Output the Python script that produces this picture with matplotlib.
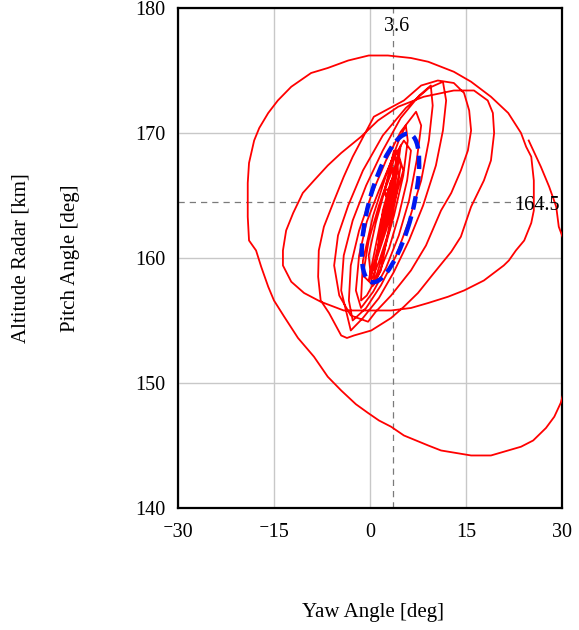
import matplotlib
matplotlib.use('Agg')
import matplotlib.pyplot as plt
from matplotlib.patches import Ellipse

# ---- data ----
# yaw / pitch trajectory, in order; the outer loop leaves the frame on the right
yaw = [
    24.8, 26.7, 28.0, 29.1, 29.5, 30.3, 32.0, 32.5, 31.5,
    30.3, 29.8, 28.8, 27.5, 25.5, 23.6, 21.6, 18.9, 15.8, 13.4, 11.1, 9.1, 5.3, 3.3,
    1.4, -0.3, -2.2, -4.5, -6.6, -8.75, -11.25, -13.4, -15.0, -15.9, -17.0, -17.8,
    -18.9, -19.1, -19.1, -18.9, -18.1, -17.3, -15.9, -14.4, -12.3, -9.2, -6.6, -3.4,
    -0.2, 2.8, 6.4, 9.1, 13.1, 15.8, 18.9, 21.6, 23.6, 24.4, 25.2, 25.6, 25.6, 25.6,
    25.2, 24.1, 22.8, 21.7, 20.9, 17.8, 14.7, 12.2, 9.1, 6.4, 3.3, 0.2, -4.1,
    -7.7, -10.3, -12.3, -13.6, -13.6, -13.1, -12.0, -10.5, -8.75, -6.6, -4.5, -1.4,
    1.25, 4.4, 8.4, 13.1, 16.25, 18.4, 19.2, 19.4, 18.9, 17.8, 15.8, 14.2, 12.7,
    10.0, 7.5, 5.3, 3.3, 0.2, -2.5, -3.6,
    -4.5, -6.4, -7.7, -8.1, -8.0, -7.2, -5.6, -4.1, -2.7, 0.6, 5.3, 8.0, 10.6,
    13.1, 14.7, 15.5, 15.8, 15.3, 14.2, 12.7, 11.1, 8.75, 6.4, 3.3, 0.9, -0.3,
    -3.0, -4.8, -5.6, -5.0, -3.4, -1.1, 2.0, 5.6, 9.2, 11.4, 11.9, 11.4, 10.3, 8.3,
    6.1, 3.75, 1.4, -1.1, -3.0,
    -4.5, -4.1, -2.7, -0.6, 2.0, 4.8, 7.7, 9.5, 9.8, 9.2, 8.0, 6.1, 4.1, 1.7, -0.6, -2.7,
    -3.3, -3.0, -1.7, 0.2, 2.5, 4.8, 7.2, 8.0, 7.3, 6.1, 4.5, 2.5, 0.5, -1.4,
    -2.2, -1.7, -0.5, 1.4, 3.3, 5.3, 6.4, 5.8, 4.5, 3.0, 1.25, -0.5,
    -1.4, -1.1, 0.5, 2.5, 4.5, 5.6, 5.9, 5.2, 3.75, 2.0, 0.5,
    -1.1, -0.2, 1.4, 3.0, 4.2, 4.8, 4.1, 3.0, 1.4, 0.2, -0.2, 0.9, 2.3, 3.6, 3.9,
    2.7, 1.4, 2.0, 3.3, 2.7, 2.2,
    3.75, 4.5, 1.7, 0.5, 1.4, 4.1, 4.8, 3.6, 0.9, -0.2, 1.7, 4.5, 5.2, 2.5, 0.2,
    1.1, 3.3, 4.2, 3.0, 1.4, 2.3, 3.9, 3.3, 2.0, 2.7, 3.6, 3.0, 2.3, 3.3, 2.8,
]
pitch = [
    169.4, 167.3, 165.7, 164.1, 162.5, 161.4, 158.0, 154.0, 150.5,
    149.3, 148.4, 147.3, 146.4, 145.4, 144.9, 144.6, 144.2, 144.2, 144.4, 144.6, 145.0, 145.8, 146.5,
    147.0, 147.6, 148.3, 149.4, 150.5, 152.1, 153.6, 155.3, 156.6, 157.7, 159.3, 160.6,
    161.4, 163.3, 166.0, 167.6, 169.4, 170.4, 171.6, 172.6, 173.7, 174.8, 175.2, 175.8,
    176.2, 176.2, 176.0, 175.7, 174.9, 174.1, 172.9, 171.6, 170.0, 168.9, 168.1, 166.2, 165.2, 163.8,
    162.8, 161.4, 160.6, 159.8, 159.4, 158.2, 157.4, 156.9, 156.4, 156.0, 155.8, 155.8, 155.8,
    156.5, 157.2, 158.1, 159.4, 160.6, 162.2, 163.6, 165.2, 166.2, 167.4, 168.4, 169.7,
    171.0, 172.1, 172.9, 173.4, 173.4, 172.6, 171.6, 170.0, 167.8, 166.2, 164.1, 161.7, 160.5,
    158.8, 157.2, 156.1, 155.2, 154.2, 153.8, 153.6,
    153.8, 155.6, 156.6, 158.5, 160.6, 162.5, 164.6, 166.5, 168.1, 171.3, 172.6, 173.8, 174.2,
    174.0, 173.2, 171.8, 170.2, 168.6, 167.0, 165.2, 163.8, 161.0, 159.0, 157.0, 155.7, 154.9,
    155.4, 157.0, 159.4, 161.8, 164.2, 167.0, 169.8, 172.0, 173.6, 174.1, 172.6, 170.2, 167.4, 164.2,
    161.4, 158.9, 156.8, 155.2, 154.2,
    157.4, 160.2, 163.0, 165.8, 168.6, 171.2, 173.0, 173.8, 172.2, 169.4, 166.2, 163.0, 160.2, 157.8, 156.0, 155.0,
    156.6, 159.4, 162.2, 165.0, 167.8, 170.1, 171.7, 170.6, 167.8, 164.6, 161.8, 159.2, 157.3, 156.0,
    157.4, 160.2, 162.9, 165.4, 167.7, 169.4, 168.6, 166.2, 163.4, 160.8, 158.6, 157.0,
    156.6, 159.8, 163.4, 166.6, 169.4, 170.6, 169.4, 166.6, 163.4, 160.2, 157.8,
    158.6, 161.4, 164.2, 166.6, 168.6, 167.4, 165.0, 162.2, 159.7, 158.2, 160.2, 162.8, 165.4, 167.2, 165.8,
    163.4, 161.4, 163.8, 166.2, 164.8, 165.2,
    168.6, 166.6, 159.0, 157.8, 161.4, 167.8, 169.0, 164.6, 159.8, 158.2, 163.0, 168.2, 167.0, 162.2, 158.6,
    160.6, 165.4, 167.4, 163.8, 161.0, 163.4, 166.6, 165.0, 162.2, 164.2, 166.1, 164.6, 165.4, 165.6, 165.0,
]

# mean point and dispersion ellipse
yaw_mean = 3.6
pitch_mean = 164.5
ell_center = (3.2, 164.0)
ell_width = 13.5
ell_height = 6.3
ell_angle = 57.6

x_ticks = [-30, -15, 0, 15, 30]
x_ticklabels = ['\u207b30', '\u207b15', '0', '15', '30']
y_ticks = [140, 150, 160, 170, 180]

SERIF = ['Liberation Serif', 'DejaVu Serif']
plt.rcParams['font.family'] = SERIF
plt.rcParams['font.size'] = 14.5

fig = plt.figure(figsize=(5.79, 6.30), dpi=100)
ax = fig.add_axes([0.3074, 0.1937, 0.6632, 0.7936])

ax.plot(yaw, pitch, color='red', lw=1.3, zorder=3)

ell = Ellipse(ell_center, ell_width, ell_height, angle=ell_angle, fill=False,
              edgecolor='#0018f0', lw=3.2, linestyle=(0, (3, 1.6)), zorder=4)
ax.add_patch(ell)

ax.axvline(yaw_mean, color='#7a7a7a', lw=0.9, linestyle=(0, (5, 4)), zorder=2)
ax.axhline(pitch_mean, color='#7a7a7a', lw=0.9, linestyle=(0, (5, 4)), zorder=2)
ax.text(yaw_mean + 0.6, 178.5, '3.6', ha='center', va='center', fontsize=14.5)
ax.text(29.6, pitch_mean - 0.3, '164.5', ha='right', va='center', fontsize=14.5, zorder=5)

ax.set_xlim(-30, 30)
ax.set_ylim(140, 180)
ax.set_xticks(x_ticks)
ax.set_xticklabels(x_ticklabels)
ax.set_yticks(y_ticks)
ax.tick_params(length=0, pad=9)
ax.tick_params(axis='x', pad=11)
ax.grid(True, color='#c8c8c8', lw=1.0, zorder=0)
ax.set_axisbelow(True)
for s in ax.spines.values():
    s.set_linewidth(1.6)
    s.set_color('black')

fig.text(0.644, 0.027, 'Yaw Angle [deg]', ha='center', va='center', fontsize=15)
fig.text(0.036, 0.59, 'Altitude Radar [km]', ha='center', va='center', rotation=90, fontsize=15)
fig.text(0.121, 0.59, 'Pitch Angle [deg]', ha='center', va='center', rotation=90, fontsize=15)

fig.savefig('out.png', dpi=100)
